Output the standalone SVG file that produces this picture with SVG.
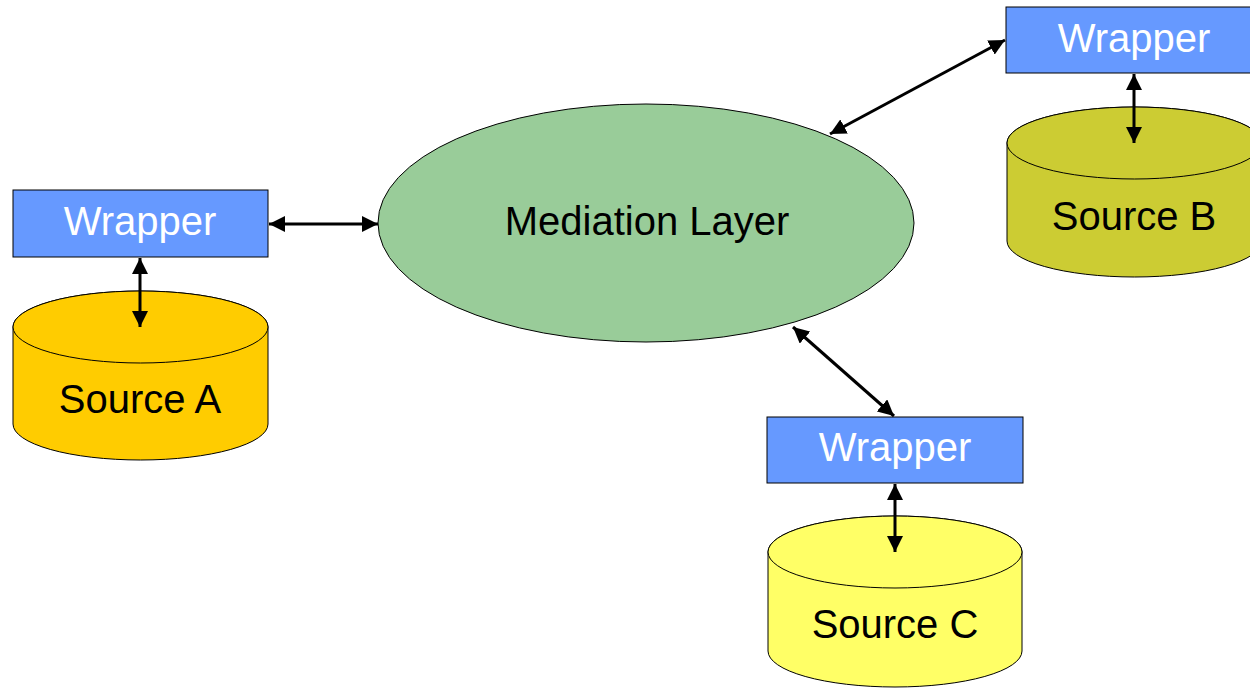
<svg xmlns="http://www.w3.org/2000/svg" width="1250" height="691" viewBox="0 0 1250 691">
<defs>
<style>
.wrap{fill:#6699FF;stroke:#000;stroke-width:1}
.wt{fill:#fff;font-family:"Liberation Sans",Arial,sans-serif;font-size:40px;text-anchor:middle}
.st{fill:#000;font-family:"Liberation Sans",Arial,sans-serif;font-size:40px;text-anchor:middle}
.cyl{stroke:#000;stroke-width:1}
.con{stroke:#000;stroke-width:3;fill:none;marker-start:url(#ah);marker-end:url(#ah)}
</style>
<marker id="ah" viewBox="0 0 10 10" refX="10" refY="5" markerUnits="userSpaceOnUse" markerWidth="16" markerHeight="16" orient="auto-start-reverse">
<path d="M0,0 L10,5 L0,10 Z" fill="#000"/>
</marker>
</defs>
<rect width="1250" height="691" fill="#fff"/>
<g id="mediation">
<ellipse cx="646" cy="223" rx="268" ry="119" fill="#99CC99" stroke="#000" stroke-width="1"/>
<text class="st" x="647" y="235">Mediation Layer</text>
</g>
<g id="sourceA">
<path class="cyl" fill="#FFCC00" d="M13,327 V424 A127.5,36 0 0 0 268,424 V327 A127.5,36 0 0 0 13,327 Z"/>
<ellipse class="cyl" fill="#FFCC00" cx="140.5" cy="327" rx="127.5" ry="36"/>
<text class="st" x="140" y="413">Source A</text>
</g>
<g id="wrapperA">
<rect class="wrap" x="13" y="190" width="255" height="67"/>
<text class="wt" x="140" y="235">Wrapper</text>
</g>
<g id="sourceB">
<path class="cyl" fill="#CCCC33" d="M1007,143 V241 A127.5,36 0 0 0 1262,241 V143 A127.5,36 0 0 0 1007,143 Z"/>
<ellipse class="cyl" fill="#CCCC33" cx="1134.5" cy="143" rx="127.5" ry="36"/>
<text class="st" x="1134" y="230">Source B</text>
</g>
<g id="wrapperB">
<rect class="wrap" x="1006" y="7" width="256" height="66"/>
<text class="wt" x="1134" y="52">Wrapper</text>
</g>
<g id="sourceC">
<path class="cyl" fill="#FFFF66" d="M768,552 V651 A127,36 0 0 0 1022,651 V552 A127,36 0 0 0 768,552 Z"/>
<ellipse class="cyl" fill="#FFFF66" cx="895" cy="552" rx="127" ry="36"/>
<text class="st" x="895" y="638">Source C</text>
</g>
<g id="wrapperC">
<rect class="wrap" x="767" y="417" width="256" height="66"/>
<text class="wt" x="895" y="461">Wrapper</text>
</g>
<g id="connectors">
<line class="con" x1="269" y1="224" x2="378" y2="224"/>
<line class="con" x1="140" y1="258" x2="140" y2="327"/>
<line class="con" x1="1005" y1="40" x2="830" y2="134"/>
<line class="con" x1="1134" y1="74" x2="1134" y2="143"/>
<line class="con" x1="793" y1="327" x2="894" y2="416"/>
<line class="con" x1="895" y1="484" x2="895" y2="552"/>
</g>
</svg>
